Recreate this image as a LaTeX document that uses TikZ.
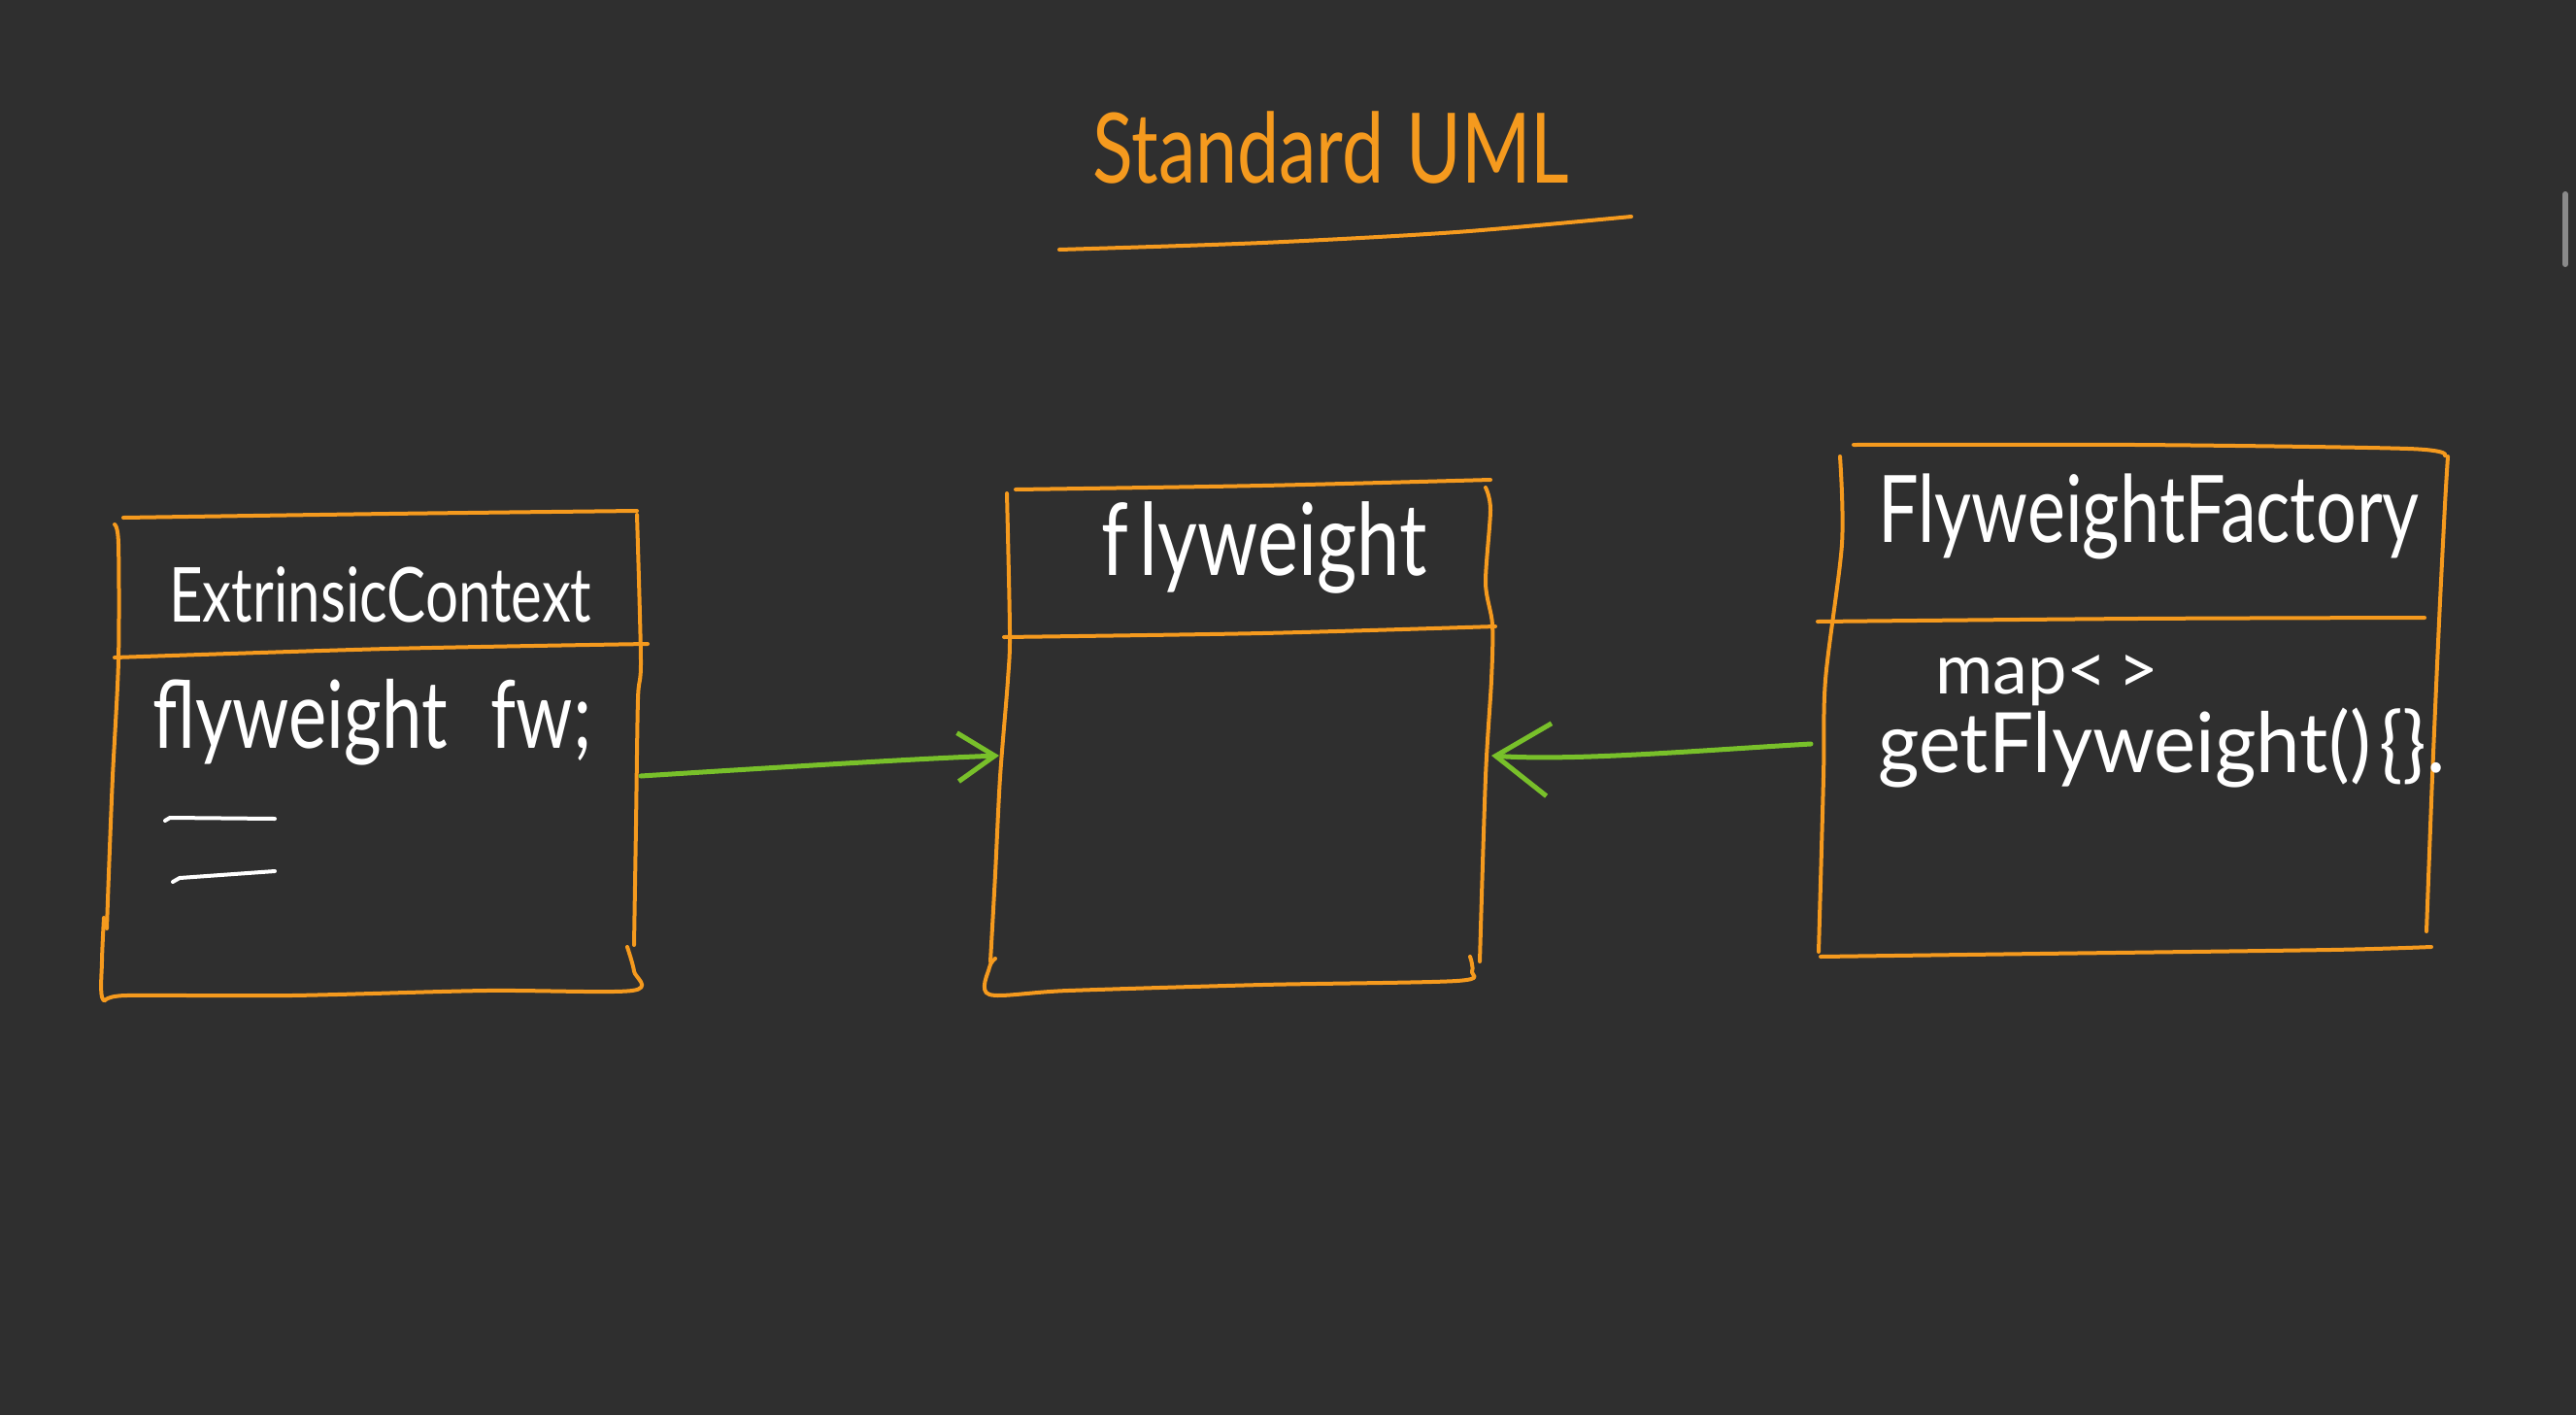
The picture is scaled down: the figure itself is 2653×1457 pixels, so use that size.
\documentclass[tikz,border=0pt]{standalone}
\usepackage{fontspec}
\usepackage{graphicx}
\setmainfont{Lato}
\usetikzlibrary{arrows.meta}
\definecolor{bg}{HTML}{2F2F2F}
\definecolor{orng}{HTML}{F59A1E}
\definecolor{grn}{HTML}{78C02A}
\definecolor{scrl}{HTML}{8A8A8A}
\newcommand{\hw}[3][1.3]{\resizebox{#2pt}{!}{\scalebox{1}[#1]{#3}}}
\tikzset{
  pen/.style={draw=orng, line width=4pt, line cap=round, line join=round},
  greenpen/.style={draw=grn, line width=5pt, line cap=round, line join=round},
  txt/.style={text=white, inner sep=0pt, anchor=base west},
  ttl/.style={text=orng, inner sep=0pt, anchor=base west},
}
\begin{document}
\begin{tikzpicture}[x=1pt,y=-1pt]
\fill[bg] (0,0) rectangle (2653,1457);
\useasboundingbox (0,0) rectangle (2653,1457);

% scrollbar
\draw[scrl, line width=6pt, line cap=round] (2642,200) -- (2642,272);

% title
\node[ttl] (title) at (1125,188) {\hw{491}{Standard\hspace{0.3em}UML}};
\draw[pen] plot[smooth] coordinates {(1091,257) (1300,250) (1500,239) (1680,223)};

% ---- left box: ExtrinsicContext
\draw[pen] plot[smooth] coordinates {(127,533) (400,529) (656,526)};
\draw[pen] plot[smooth] coordinates {(118,540) (122,560) (122,680) (116,800) (112,900) (110,956)};
\draw[pen] plot[smooth] coordinates {(107,945) (105,990) (106,1029) (130,1025) (300,1025) (500,1020) (651,1020) (653,1000) (646,975)};
\draw[pen] plot[smooth] coordinates {(656,530) (660,680) (657,720) (655,850) (653,973)};
\draw[pen] plot[smooth] coordinates {(118,677) (400,668) (667,663)};
\node[txt] (ctxname) at (174,640) {\hw{435}{ExtrinsicContext}};
\node[txt] (ctxfield) at (157,770) {\hw{452}{flyweight\hspace{0.6em}fw;}};
\draw[white, line width=4pt, line cap=round] (170,845) -- (175,842) -- (283,843);
\draw[white, line width=4pt, line cap=round] (178,908) -- (185,904) -- (283,897);

% ---- middle box: flyweight
\draw[pen] plot[smooth] coordinates {(1046,504) (1300,500) (1535,494)};
\draw[pen] plot[smooth] coordinates {(1037,508) (1040,650) (1038,700) (1030,800) (1025,900) (1020,990)};
\draw[pen] plot[smooth] coordinates {(1025,987) (1019,996) (1019,1024) (1100,1020) (1300,1014) (1500,1010) (1516,1000) (1514,985)};
\draw[pen] plot[smooth] coordinates {(1530,502) (1535,525) (1530,600) (1537,643) (1536,700) (1530,800) (1524,990)};
\draw[pen] plot[smooth] coordinates {(1034,656) (1300,652) (1540,645)};
\node[txt] (fwname) at (1134,592) {\hw{335}{f\hspace{0.15em}lyweight}};

% ---- right box: FlyweightFactory
\draw[pen] plot[smooth] coordinates {(1909,458) (2200,458) (2480,462) (2518,469)};
\draw[pen] plot[smooth] coordinates {(1895,470) (1897,560) (1880,700) (1878,800) (1873,980)};
\draw[pen] plot[smooth] coordinates {(1875,985) (2100,982) (2400,978) (2504,975)};
\draw[pen] plot[smooth] coordinates {(2521,470) (2518,520) (2512,640) (2505,800) (2499,959)};
\draw[pen] plot[smooth] coordinates {(1872,640) (2200,637) (2497,636)};
\node[txt] (facname) at (1934,558) {\hw{557}{FlyweightFactory}};
\node[txt] (facmap) at (1993,714) {\hw[1.0]{230}{map<\hspace{0.15em}>}};
\node[txt] (facget) at (1934,795) {\hw[1.05]{584}{getFlyweight()\hspace{0.1em}\{\}.}};

% ---- connectors
\coordinate (a1s) at (660,799);
\coordinate (a1e) at (1029,778);
\coordinate (a2s) at (1865,766);
\coordinate (a2e) at (1536,778);
\draw[greenpen, -{Straight Barb[length=38pt,width=50pt]}] (a1s) .. controls (850,787) and (950,781) .. (a1e);
\draw[greenpen, -{Straight Barb[length=55pt,width=75pt]}] (a2s) .. controls (1760,772) and (1620,784) .. (a2e);
\end{tikzpicture}
\end{document}
